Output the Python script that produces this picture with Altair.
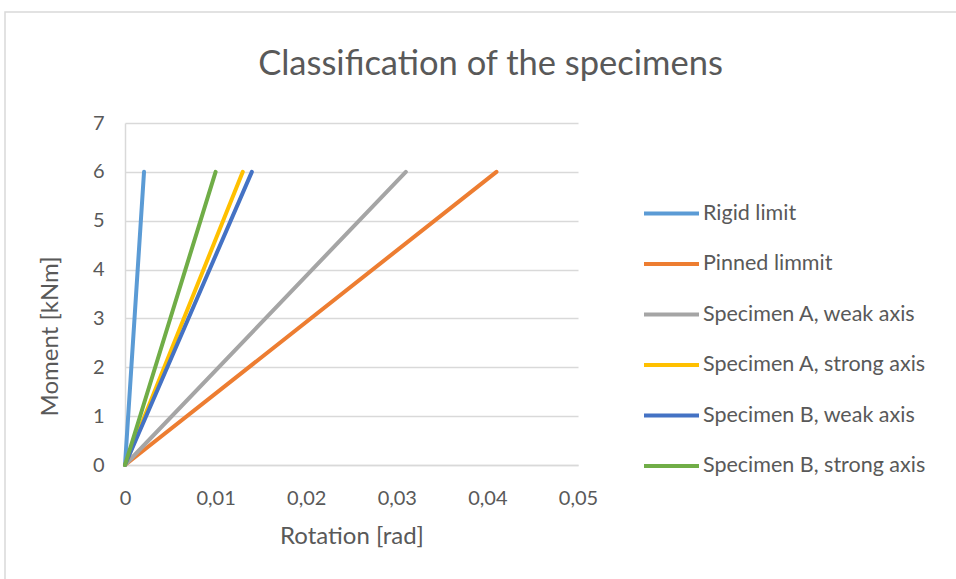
import altair as alt
import pandas as pd

series = ["Rigid limit", "Pinned limmit", "Specimen A, weak axis",
          "Specimen A, strong axis", "Specimen B, weak axis", "Specimen B, strong axis"]
colors = ["#5B9BD5", "#ED7D31", "#A5A5A5", "#FFC000", "#4472C4", "#70AD47"]
rot_end = [0.0021, 0.041, 0.031, 0.013, 0.014, 0.010]
moment_end = [6, 6, 6, 6, 6, 6]

rows = []
for s, r, m in zip(series, rot_end, moment_end):
    rows.append({"series": s, "rotation": 0.0, "moment": 0.0, "order": 0})
    rows.append({"series": s, "rotation": r, "moment": m, "order": 1})
df = pd.DataFrame(rows)

FONT = "Lato"
TXT = "#595959"

lines = alt.Chart(df).mark_line(strokeWidth=4, strokeCap="round").encode(
    x=alt.X("rotation:Q", scale=alt.Scale(domain=[0, 0.05], nice=False),
            axis=alt.Axis(values=[0, 0.01, 0.02, 0.03, 0.04, 0.05], format="~g",
                          labelExpr="replace(datum.label, '.', ',')",
                          title="Rotation [rad]", grid=False, ticks=False, labelFlush=False,
                          domainColor="#d9d9d9", domainWidth=1.5,
                          labelPadding=23, titlePadding=16)),
    y=alt.Y("moment:Q", scale=alt.Scale(domain=[0, 7], nice=False),
            axis=alt.Axis(values=[0, 1, 2, 3, 4, 5, 6, 7], title="Moment [kNm]",
                          grid=True, gridColor="#d9d9d9", gridWidth=1.5, ticks=False,
                          domainColor="#d9d9d9", domainWidth=1.5,
                          labelPadding=21, titlePadding=30, titleY=213)),
    color=alt.Color("series:N", scale=alt.Scale(domain=series, range=colors),
                    legend=alt.Legend(title=None, orient="none", legendX=517, legendY=61,
                                      symbolType="stroke", symbolSize=3025,
                                      symbolStrokeWidth=4, rowPadding=10.5,
                                      labelFontSize=21.5, labelColor=TXT, labelFont=FONT,
                                      labelOffset=2, labelLimit=400)),
    order="order:Q",
    detail="series:N",
)

border = alt.Chart(alt.Data(values=[{}])).mark_rect(
    fill=None, stroke="#d9d9d9", strokeWidth=1.5
).encode(
    x=alt.value(5 - 125), x2=alt.value(1100), y=alt.value(12 - 123), y2=alt.value(700)
)

chart = alt.layer(border, lines).properties(
    width=453, height=342,
    title=alt.TitleParams("Classification of the specimens", fontSize=34.5, font=FONT,
                          fontWeight="normal", color=TXT, anchor="middle", dx=139, offset=-71),
    autosize=alt.AutoSizeParams(type="none"),
    padding={"left": 125, "top": 123, "right": 378, "bottom": 114},
    background="white",
).configure_view(stroke=None).configure_axis(
    labelFont=FONT, titleFont=FONT, labelFontSize=20, titleFontSize=24,
    labelColor=TXT, titleColor=TXT, titleFontWeight="normal"
)

chart.save("out.html", embed_options={"renderer": "svg", "actions": False})
